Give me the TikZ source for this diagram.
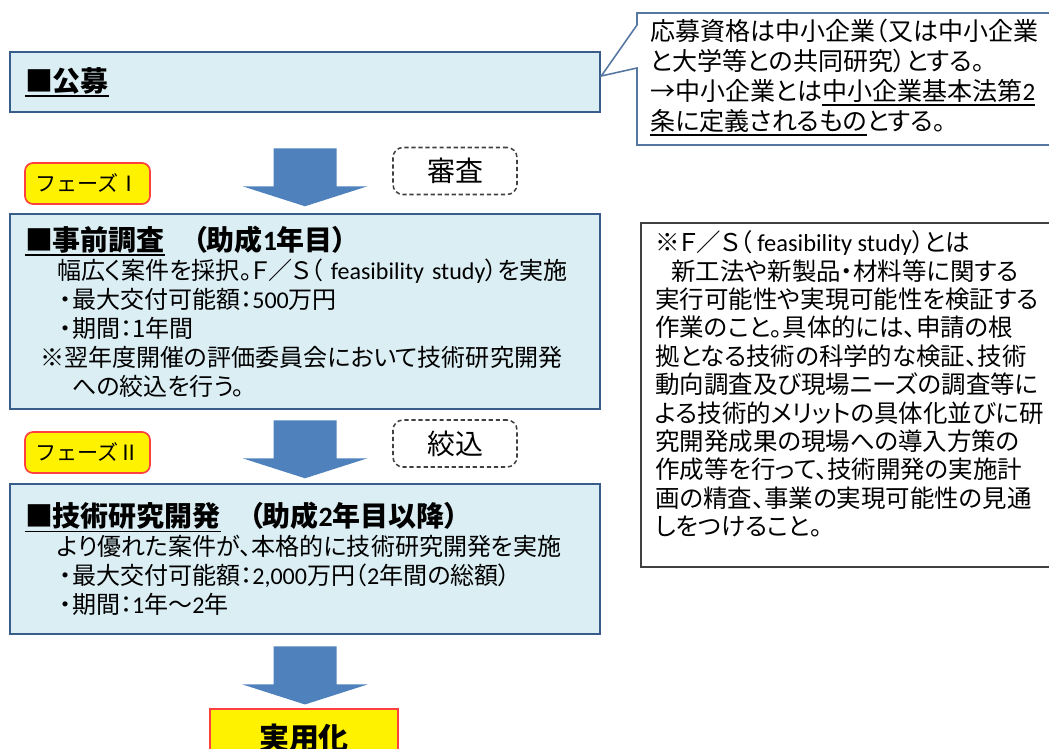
\documentclass[tikz,border=0pt]{standalone}
\usepackage{fontspec}
\setmainfont{Noto Sans CJK JP}[RawFeature=+palt]
\newfontfamily\monojp{Noto Sans CJK JP}
\newfontfamily\latin{Carlito}
\usepackage{tikz}
\usetikzlibrary{positioning}
\definecolor{boxfill}{RGB}{219,238,244}
\definecolor{boxline}{RGB}{56,93,138}
\definecolor{flowblue}{RGB}{79,129,189}
\definecolor{tagred}{RGB}{255,64,64}
\definecolor{callline}{RGB}{84,118,160}
\definecolor{darkline}{RGB}{64,64,64}
\newcommand{\en}[1]{{\latin #1}}
\newcommand{\undl}[1]{\setbox0\hbox{#1}\rlap{\rule[-0.2em]{\wd0}{0.06em}}\box0}
\newcommand{\ttl}{\fontsize{19.9pt}{24pt}\selectfont\bfseries}
\newcommand{\bigarrow}[1]{\fill[flowblue] #1 ++(-0.7875,0) -- ++(1.575,0) -- ++(0,-0.95) -- ++(0.775,0) -- ++(-1.5625,-0.5) -- ++(-1.5625,0.5) -- ++(0.775,0) -- cycle;}
\tikzset{
  stagebox/.style={rectangle,draw=boxline,fill=boxfill,line width=1.8pt,minimum width=14.75cm,text width=14cm,align=left,inner xsep=0.375cm,font=\fontsize{17.1pt}{20.6pt}\selectfont},
  phasetag/.style={rectangle,rounded corners=0.2cm,draw=tagred,fill=yellow,line width=1.2pt,minimum width=3.125cm,minimum height=1.025cm,font=\monojp\fontsize{15pt}{17pt}\selectfont},
  checktag/.style={rectangle,rounded corners=0.25cm,draw=darkline,dash pattern=on 3pt off 2pt,line width=1.1pt,minimum width=3.1cm,minimum height=1.175cm,font=\fontsize{19.9pt}{22pt}\selectfont}
}
\begin{document}
\begin{tikzpicture}
\useasboundingbox (0,0) rectangle (26.225,-18.725);
\clip (0,0) rectangle (26.225,-18.725);
% flow boxes
\node (koubo) [stagebox,minimum height=1.5cm] at (7.625,-2.05) {{\ttl\undl{■公募}}};
\node (jizen) [stagebox,minimum height=4.875cm] at (7.625,-7.7875) {{\ttl\undl{■事前調査}　（助成\en{1}年目）}\\
\hspace*{0.8cm}幅広く案件を採択。Ｆ／Ｓ（~\en{feasibility~study}）を実施\\
\hspace*{0.875cm}・最大交付可能額：\en{500}万円\\
\hspace*{0.875cm}・期間：1年間\\
\hspace*{0.375cm}※翌年度開催の評価委員会において技術研究開発\\
\hspace*{1.175cm}への絞込を行う。};
\node (gijutsu) [stagebox,minimum height=3.75cm] at (7.625,-13.975) {{\ttl\undl{■技術研究開発}　（助成\en{2}年目以降）}\\
\hspace*{0.8cm}より優れた案件が、本格的に技術研究開発を実施\\
\hspace*{0.875cm}・最大交付可能額：\en{2,000}万円（\en{2}年間の総額）\\
\hspace*{0.875cm}・期間：\en{1}年～\en{2}年};
\node (jitsuyo) [rectangle,draw=tagred,fill=yellow,line width=1.2pt,minimum width=4.7cm,minimum height=1.45cm,font=\fontsize{21.3pt}{24pt}\selectfont\bfseries] at (7.6,-18.45) {実用化};
%
\node (phase1) [phasetag] at (2.1875,-4.5875) {フェーズⅠ};
\node (phase2) [phasetag] at (2.1875,-11.3125) {フェーズⅡ};
\node (shinsa) [checktag] at (11.375,-4.275) {審査};
\node (shibori) [checktag] at (11.375,-11.0875) {絞込};
%
\bigarrow{([yshift=-0.875cm]koubo.south)}
\bigarrow{([yshift=-0.25cm]jizen.south)}
\bigarrow{([yshift=-0.28cm]gijutsu.south)}
% callout
\draw[callline,line width=1.1pt,fill=white] (15.925,-0.325) -- (26.5,-0.325) -- (26.5,-3.625) -- (15.925,-3.625) -- (15.925,-1.7) -- ([yshift=0.15cm]koubo.east) -- (15.925,-0.625) -- cycle;
\node (callout) [anchor=north west,align=left,inner sep=0pt,font=\fontsize{17.8pt}{21.3pt}\selectfont] at (16.25,-0.475) {応募資格は中小企業（又は中小企業\\
と大学等との共同研究）とする。\\
→中小企業とは\undl{中小企業基本法第\en{2}}\\
\undl{条に定義されるもの}とする。};
% note
\node (note) [rectangle,draw=darkline,line width=1.1pt,minimum width=11cm,minimum height=8.6cm,anchor=north west] at (16.0,-5.55) {};
\node (notetext) [anchor=north west,align=left,inner sep=0pt,font=\fontsize{17.4pt}{20.2pt}\selectfont] at ([xshift=0.375cm,yshift=-0.21cm]note.north west) {※Ｆ／Ｓ（ \en{feasibility study}）とは\\
\hspace*{0.4cm}新工法や新製品・材料等に関する\\
実行可能性や実現可能性を検証する\\
作業のこと。具体的には、申請の根\\
拠となる技術の科学的な検証、技術\\
動向調査及び現場ニーズの調査等に\\
よる技術的メリットの具体化並びに研\\
究開発成果の現場への導入方策の\\
作成等を行って、技術開発の実施計\\
画の精査、事業の実現可能性の見通\\
しをつけること。};
\end{tikzpicture}
\end{document}
